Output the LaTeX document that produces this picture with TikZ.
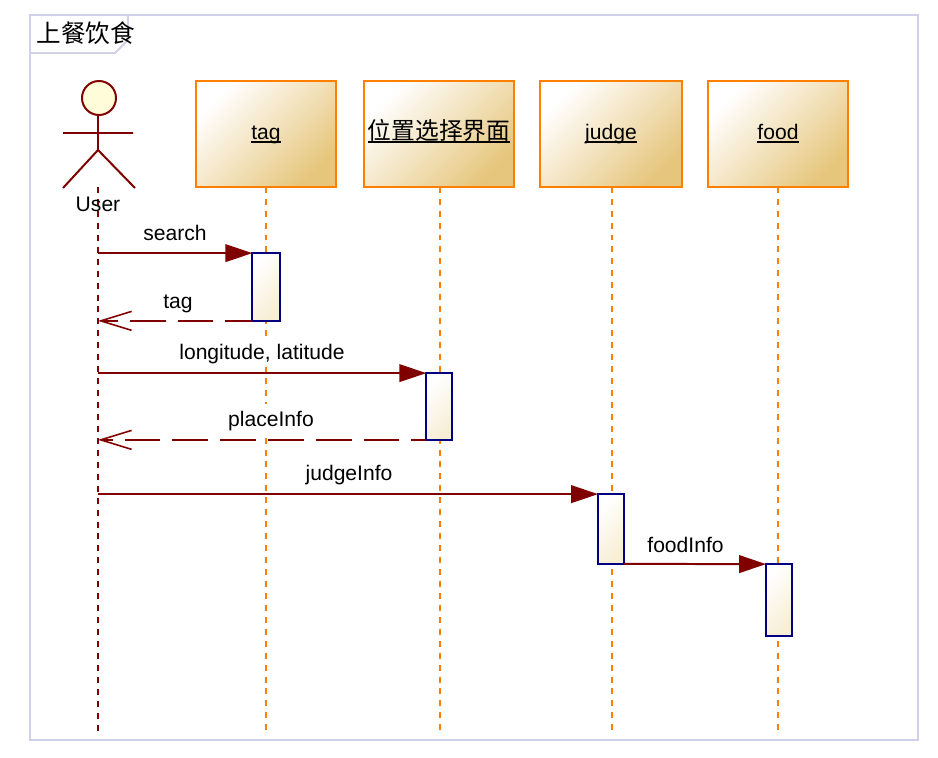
\documentclass[tikz,border=0pt]{standalone}
\usepackage{fontspec}
\setmainfont{Liberation Sans}
\newfontfamily\cjk{Noto Sans CJK SC}
\usetikzlibrary{arrows.meta}
\definecolor{framecol}{RGB}{208,208,232}
\definecolor{msgcol}{RGB}{128,0,0}
\definecolor{boxcol}{RGB}{255,128,0}
\definecolor{barcol}{RGB}{0,0,128}
\definecolor{boxdark}{RGB}{230,198,125}
\definecolor{bardark}{RGB}{248,238,214}
\newcommand{\objtxt}[1]{\setbox0\hbox{#1}\rlap{\vrule width\wd0 height -1pt depth 2.1pt}\box0}
\tikzset{
  objbox/.style={draw=boxcol,line width=1.13pt,shade,shading=axis,top color=white,bottom color=boxdark,
    shading angle=45,minimum height=60pt,inner sep=0pt,outer sep=0pt,text height=8pt,text depth=2pt,
    font=\fontsize{12}{12}\selectfont},
  actbar/.style={draw=barcol,line width=1.13pt,shade,shading=axis,top color=white,bottom color=bardark,
    shading angle=45,inner sep=0pt,outer sep=0pt},
  lifeline/.style={draw=boxcol,line width=1.13pt,dash pattern=on 3.4pt off 3.4pt},
  userline/.style={draw=msgcol,line width=1.13pt,dash pattern=on 3.4pt off 3.4pt},
  syncmsg/.style={draw=msgcol,line width=1.13pt,-{Triangle[length=15.3pt,width=10pt,fill=msgcol]}},
  retmsg/.style={draw=msgcol,line width=1.13pt,dash pattern=on 20.4pt off 6.8pt,
    -{Straight Barb[length=17.6pt,width=10.8pt,line width=0.9pt]}},
  actorlabel/.style={inner sep=0pt,text height=12.5pt,text depth=4.5pt,font=\fontsize{12}{12}\selectfont},
  msglabel/.style={actorlabel,fill=white}
}
\begin{document}
\begin{tikzpicture}[x=0.02cm,y=-0.02cm]
  \useasboundingbox (0,0) rectangle (938,758);
  % 外框
  \draw[framecol,line width=1.13pt] (30,15) rectangle (918,740);
  \draw[framecol,line width=1.13pt] (30,53) -- (115,53) -- (128,40) -- (128,15);
  \node[inner sep=0pt,font=\cjk\fontsize{14}{14}\selectfont] (title) at (86,33) {上餐饮食};
  % 角色
  \draw[msgcol,line width=1.13pt,fill=yellow!15] (99,98) circle (17);
  \draw[msgcol,line width=1.13pt] (98,115) -- (98,150) (63,133) -- (133,133)
    (98,150) -- (63,188) (98,150) -- (135,188);
  \coordinate (user) at (98,187);
  \coordinate (userend) at (98,733);
  \draw[userline] (user) -- (userend);
  \node[actorlabel] (userlabel) at (98,204.5) {User};
  % 对象与生命线
  \foreach \name/\x/\lx/\w/\txt in {tag/266/266/140/tag,place/439/440/150/{\cjk\fontsize{13.5}{14}\selectfont 位置选择界面},judge/611/612/142/judge,food/778/778/140/food} {
    \node[objbox,minimum width=\w*0.567pt] (\name) at (\x,134) {\objtxt{\txt}};
    \coordinate (\name end) at (\lx,733);
    \draw[lifeline] (\name.south -| \name end) -- (\name end);
  }
  % 消息标签
  \node[msglabel] (l1) at (175,233) {search};
  \node[msglabel] (l2) at (178,301) {tag};
  \node[msglabel] (l3) at (262,352) {longitude, latitude};
  \node[msglabel] (l4) at (271,419) {placeInfo};
  \node[msglabel] (l5) at (349,473) {judgeInfo};
  \node[msglabel] (l6) at (685.5,545.5) {foodInfo};
  % 激活条
  \foreach \name/\x/\w/\ya/\yb in {bartag/266/27.5/253/321,barplace/439/25.5/373/440,barjudge/611/26/494/564,barfood/779/26/564/636} {
    \node[actbar,minimum width=\w*0.567pt,minimum height={(\yb-\ya)*0.567pt}] (\name) at (\x,{(\ya+\yb)/2}) {};
  }
  % 消息
  \draw[syncmsg] (user |- bartag.north west) -- (bartag.north west);
  \draw[retmsg,dash phase=5.1pt] (bartag.south west) -- (user |- bartag.south west);
  \draw[syncmsg] (user |- barplace.north west) -- (barplace.north west);
  \draw[retmsg,dash phase=11.9pt] (barplace.south west) -- (user |- barplace.south west);
  \draw[syncmsg] (user |- barjudge.north west) -- (barjudge.north west);
  \draw[syncmsg] (barjudge.south east) -- (barfood.north west);
\end{tikzpicture}
\end{document}
